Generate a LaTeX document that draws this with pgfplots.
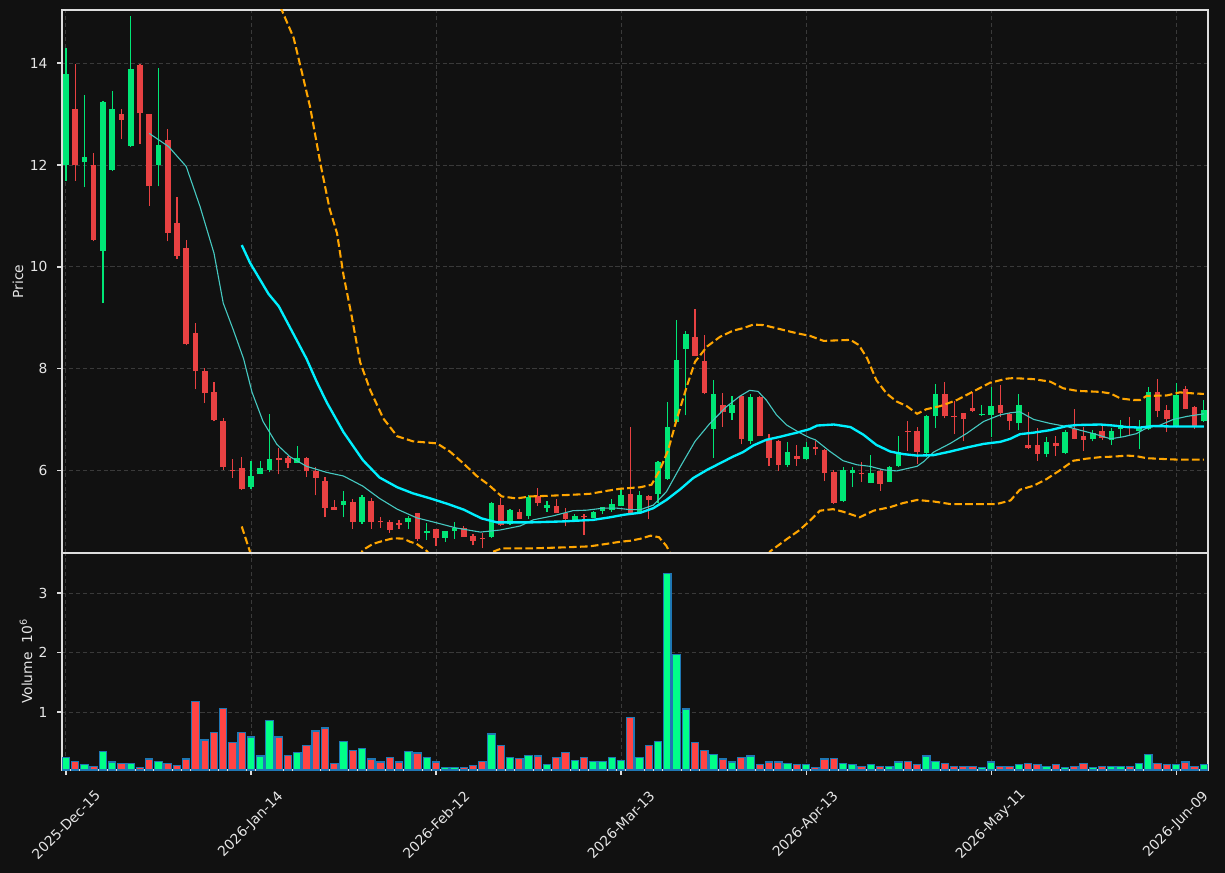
\documentclass[border=0pt]{standalone}
\usepackage{fontspec}
\setmainfont{DejaVu Sans}
\usepackage{pgfplots}
\usepackage{pgfplotstable}
\pgfplotsset{compat=1.18}
\definecolor{bg}{HTML}{111111}
\definecolor{upc}{HTML}{00E676}
\definecolor{dnc}{HTML}{E84142}
\definecolor{vup}{HTML}{00FF88}
\definecolor{vdn}{HTML}{FF4444}
\definecolor{vedge}{HTML}{1F77B4}
\definecolor{gridc}{HTML}{3A3A3A}
\definecolor{spine}{HTML}{DDDDDD}
\definecolor{tlab}{HTML}{E6E6E6}
\definecolor{smaA}{HTML}{00F0FF}
\definecolor{smaB}{HTML}{45C9C1}
\definecolor{bbc}{HTML}{FFA500}

\pgfplotstableread{
x o h l c
0 12.00 14.29 11.69 13.78
2 12.05 13.37 11.56 12.16
4 10.31 13.26 9.29 13.24
5 11.90 13.45 11.88 13.10
7 12.37 14.92 12.35 13.88
10 11.99 13.90 11.58 12.39
20 5.69 6.19 5.64 5.90
21 5.94 6.19 5.93 6.06
22 6.02 7.11 5.97 6.24
25 6.16 6.48 6.15 6.25
30 5.33 5.61 5.09 5.41
32 5.00 5.52 4.96 5.48
37 4.99 5.12 4.87 5.08
39 4.79 4.97 4.65 4.82
41 4.69 4.83 4.61 4.82
42 4.82 4.99 4.67 4.89
46 4.71 5.39 4.68 5.37
48 4.95 5.25 4.94 5.23
50 5.12 5.53 5.05 5.48
52 5.28 5.41 5.20 5.33
55 5.04 5.16 5.03 5.12
57 5.08 5.22 5.07 5.20
58 5.22 5.30 5.15 5.29
59 5.24 5.44 5.20 5.35
60 5.32 5.65 5.31 5.53
62 5.19 5.60 5.18 5.53
64 5.54 6.19 5.37 6.18
65 5.84 7.35 5.83 6.87
66 6.95 8.95 6.94 8.18
67 8.40 8.74 7.09 8.69
70 6.83 7.78 6.25 7.51
72 7.14 7.46 7.00 7.29
74 6.59 7.51 6.53 7.45
78 6.12 6.56 6.07 6.37
80 6.24 6.57 6.21 6.46
84 5.40 6.08 5.39 6.01
85 5.95 6.07 5.68 6.01
87 5.77 6.31 5.76 5.96
89 5.79 6.10 5.78 6.07
90 6.09 6.68 6.08 6.37
93 6.36 7.10 6.27 7.08
94 7.07 7.70 6.84 7.50
99 7.10 7.29 7.08 7.12
100 7.10 7.64 6.66 7.27
103 6.93 7.50 6.80 7.30
106 6.34 6.67 6.27 6.57
108 6.35 6.80 6.33 6.77
111 6.62 6.80 6.58 6.75
113 6.60 6.84 6.51 6.79
114 6.82 7.00 6.66 6.90
116 6.79 6.99 6.42 6.84
117 6.82 7.64 6.81 7.55
120 6.88 7.72 6.87 7.48
123 6.97 7.39 6.96 7.20
}\upcandles

\pgfplotstableread{
x o h l c
1 13.10 13.99 11.69 11.99
3 11.99 12.23 10.50 10.53
6 13.00 13.10 12.50 12.89
8 13.96 13.98 12.41 13.01
9 13.00 13.00 11.20 11.58
11 12.49 12.71 10.50 10.67
12 10.86 11.37 10.15 10.22
13 10.37 10.52 8.46 8.48
14 8.71 8.90 7.60 7.95
15 7.96 8.02 7.33 7.52
16 7.55 7.75 6.97 6.99
17 6.98 7.04 6.02 6.08
18 6.01 6.24 5.86 5.99
19 6.06 6.27 5.63 5.65
23 6.25 6.44 5.93 6.22
24 6.25 6.30 6.05 6.16
26 6.25 6.27 5.88 5.99
27 6.00 6.07 5.52 5.87
28 5.80 5.89 5.09 5.28
29 5.29 5.43 5.23 5.24
31 5.39 5.44 4.87 5.00
33 5.41 5.46 4.87 4.99
34 5.01 5.10 4.89 4.99
35 5.00 5.04 4.79 4.85
36 4.98 5.04 4.87 4.94
38 5.18 5.18 4.63 4.67
40 4.86 4.86 4.53 4.69
43 4.89 4.91 4.70 4.71
44 4.73 4.76 4.54 4.63
45 4.69 4.79 4.48 4.67
47 5.33 5.46 4.91 4.93
49 5.20 5.25 5.05 5.06
51 5.51 5.67 5.32 5.38
53 5.31 5.45 5.17 5.18
54 5.18 5.27 4.91 5.05
56 5.11 5.15 4.74 5.09
61 5.55 6.86 5.13 5.17
63 5.51 5.52 5.05 5.43
68 8.63 9.17 8.25 8.26
69 8.16 8.66 7.50 7.52
71 7.29 7.52 6.87 7.15
73 7.47 7.48 6.52 6.63
75 7.45 7.46 6.68 6.69
76 6.61 6.73 6.10 6.26
77 6.59 6.60 6.00 6.12
79 6.30 6.50 6.10 6.24
81 6.46 6.58 6.31 6.42
82 6.41 6.42 5.80 5.95
83 5.97 6.01 5.35 5.38
86 5.96 6.17 5.78 5.93
88 5.99 6.03 5.61 5.75
91 6.79 6.97 6.39 6.77
92 6.78 6.86 6.14 6.37
95 7.50 7.74 7.03 7.07
96 7.08 7.37 6.72 7.05
97 7.13 7.14 6.58 7.01
98 7.23 7.54 7.15 7.18
101 7.29 7.68 7.05 7.14
102 7.12 7.13 6.80 6.98
104 6.51 7.15 6.43 6.44
105 6.51 6.84 6.20 6.34
107 6.54 6.69 6.29 6.48
109 6.82 7.22 6.62 6.63
110 6.69 6.87 6.39 6.61
112 6.79 6.89 6.61 6.65
115 6.89 7.06 6.70 6.87
118 7.54 7.80 7.05 7.18
119 7.20 7.29 6.76 7.01
121 7.61 7.66 7.21 7.22
122 7.26 7.27 6.82 6.89
}\dncandles

\pgfplotstableread{
x v
0 0.24
2 0.11
4 0.34
5 0.16
7 0.13
10 0.17
20 0.58
21 0.26
22 0.85
25 0.32
30 0.51
32 0.38
37 0.34
39 0.24
41 0.07
42 0.07
46 0.63
48 0.24
50 0.27
52 0.12
55 0.19
57 0.17
58 0.17
59 0.24
60 0.19
62 0.24
64 0.51
65 3.33
66 1.97
67 1.05
70 0.29
72 0.16
74 0.26
78 0.14
80 0.11
84 0.14
85 0.11
87 0.12
89 0.09
90 0.16
93 0.26
94 0.17
99 0.06
100 0.16
103 0.12
106 0.09
108 0.07
111 0.06
113 0.09
114 0.09
116 0.14
117 0.29
120 0.12
123 0.11
}\upvol

\pgfplotstableread{
x v
1 0.17
3 0.09
6 0.13
8 0.07
9 0.21
11 0.13
12 0.10
13 0.21
14 1.18
15 0.53
16 0.66
17 1.06
18 0.49
19 0.66
23 0.58
24 0.27
26 0.43
27 0.68
28 0.73
29 0.14
31 0.36
33 0.21
34 0.16
35 0.24
36 0.16
38 0.31
40 0.16
43 0.07
44 0.10
45 0.17
47 0.44
49 0.22
51 0.26
53 0.24
54 0.32
56 0.24
61 0.91
63 0.44
68 0.48
69 0.36
71 0.21
73 0.24
75 0.11
76 0.16
77 0.16
79 0.11
81 0.07
82 0.21
83 0.22
86 0.09
88 0.09
91 0.17
92 0.12
95 0.14
96 0.09
97 0.09
98 0.09
101 0.09
102 0.09
104 0.14
105 0.12
107 0.11
109 0.09
110 0.14
112 0.09
115 0.09
118 0.14
119 0.11
121 0.16
122 0.09
}\dnvol

\pgfplotsset{
  panel/.style={
    scale only axis, width=11.46in,
    xmin=-0.43, xmax=123.45,
    axis line style={spine, line width=0.8pt},
    grid=major,
    major grid style={gridc, dash pattern=on 3pt off 2pt, line width=0.7pt},
    xtick={0,20,...,120},
    tick align=outside, major tick length=3.5pt,
    ytick pos=left, xtick pos=bottom,
    tick style={spine, line width=0.8pt},
    ticklabel style={font=\fontsize{10}{12}\selectfont, text=tlab},
    yticklabel style={xshift=-3.5pt},
    /pgf/number format/assume math mode=true,
    label style={font=\fontsize{10}{12}\selectfont, text=tlab},
  },
  candle/.style 2 args={draw=none, mark=none, forget plot,
    error bars/.cd, y dir=plus, y explicit, error mark=none,
    error bar style={draw=#1, line width=#2}},
}

\begin{document}
\begin{tikzpicture}
\path[use as bounding box, fill=bg] (-0.62in,-1.03in) rectangle (11.63in,7.70in);

\begin{axis}[panel,
  at={(0,2.17in)}, anchor=south west, height=5.43in,
  ymin=4.39, ymax=15.04, ytick={6,8,10,12,14},
  xticklabels={}, xtick style={draw=none},
  ylabel={Price},
  ylabel style={at={(axis description cs:-0.0384,0.5)}, anchor=center},
]
% wicks
\addplot[candle={upc}{0.8pt}]
  table[x=x, y=l, y error plus expr=\thisrow{h}-\thisrow{l}] {\upcandles};
\addplot[candle={dnc}{0.8pt}]
  table[x=x, y=l, y error plus expr=\thisrow{h}-\thisrow{l}] {\dncandles};
% bodies
\addplot[candle={upc}{4.0pt}]
  table[x=x, y=o, y error plus expr=\thisrow{c}-\thisrow{o}] {\upcandles};
\addplot[candle={dnc}{4.0pt}]
  table[x=x, y=c, y error plus expr=\thisrow{o}-\thisrow{c}] {\dncandles};

% Bollinger upper
\addplot[bbc, line width=1.5pt, dash pattern=on 5.5pt off 2.4pt, mark=none] coordinates {
(19,16.4) (21,15.9) (23.3,15.05) (24.6,14.50) (25.5,13.82) (26.4,13.13) (27.5,12.03) (28.5,11.14) (29.3,10.66) (30.0,9.84) (30.9,9.02) (31.8,8.13) (32.9,7.58) (34.3,7.03) (35.8,6.68) (37.5,6.58) (40.1,6.54) (41.5,6.38) (43.0,6.14) (44.4,5.90) (45.6,5.74) (47.1,5.50) (48.7,5.46) (50.2,5.50) (51.9,5.51) (54.5,5.53) (56.6,5.55) (58.5,5.61) (59.9,5.65) (62.1,5.68) (63.3,5.73) (64.2,6.02) (65.1,6.41) (66.0,7.00) (67.1,7.65) (68.0,8.14) (69.3,8.44) (70.7,8.63) (72.1,8.75) (73.2,8.80) (74.3,8.87) (75.4,8.86) (77.2,8.78) (79.0,8.70) (80.4,8.65) (81.9,8.55) (84.8,8.57) (85.7,8.47) (86.6,8.21) (87.6,7.78) (88.7,7.52) (89.8,7.36) (90.9,7.27) (92.0,7.12) (93.0,7.21) (94.5,7.27) (96.3,7.39) (98.1,7.56) (99.9,7.73) (101.7,7.81) (102.4,7.82) (104.6,7.80) (106.4,7.75) (107.8,7.62) (109.3,7.57) (111.8,7.55) (112.9,7.52) (114.0,7.42) (115.4,7.39) (116.1,7.39) (116.8,7.47) (119.0,7.48) (120.4,7.54) (121.9,7.52) (123.0,7.51)
};
% Bollinger lower
\addplot[bbc, line width=1.5pt, dash pattern=on 5.5pt off 2.4pt, mark=none] coordinates {
(19.0,4.91) (19.9,4.41) (20.5,4.0) (22,3.0) (25,2.5) (28,3.0) (30,3.7) (31.5,4.25) (32.1,4.45) (33.2,4.57) (34.3,4.63) (35.4,4.68) (36.5,4.67) (37.2,4.61) (37.9,4.57) (39.0,4.43) (40,4.2) (42,3.9) (44,4.1) (45.8,4.39) (47.1,4.48) (50.2,4.48) (53.8,4.50) (56.6,4.52) (58.1,4.56) (59.9,4.61) (61.0,4.63) (62.1,4.67) (63.2,4.73) (64.1,4.70) (64.9,4.53) (65.3,4.39) (66,3.9) (68,3.0) (70,2.8) (72,3.0) (74,3.5) (76.1,4.42) (77.9,4.66) (79.3,4.84) (80.4,5.02) (81.5,5.22) (82.9,5.25) (84.0,5.20) (85.8,5.09) (87.3,5.22) (89.1,5.29) (90.5,5.37) (92.0,5.43) (93.8,5.40) (95.6,5.35) (98.1,5.35) (100.6,5.35) (102.1,5.42) (103.1,5.63) (104.6,5.71) (106.0,5.84) (107.5,6.02) (108.9,6.20) (110.3,6.24) (111.8,6.27) (113.2,6.28) (114.7,6.30) (115.7,6.29) (116.8,6.25) (119.0,6.23) (120.4,6.22) (123.0,6.22)
};
% SMA 10 (thin)
\addplot[smaB, line width=0.8pt, mark=none] coordinates {
(9.0,12.62) (11.1,12.36) (13.0,11.97) (14.5,11.18) (16.0,10.27) (17.0,9.29) (18.1,8.76) (19.2,8.20) (20.1,7.55) (21.3,6.97) (22.8,6.52) (24.2,6.28) (26.0,6.09) (28.2,5.97) (30.0,5.90) (32.1,5.70) (33.9,5.46) (35.8,5.25) (37.9,5.08) (40.1,4.98) (42.2,4.88) (44.8,4.80) (46.9,4.84) (49.1,4.92) (50.5,5.04) (52.7,5.12) (54.8,5.22) (56.3,5.23) (58.1,5.27) (59.5,5.27) (61.0,5.24) (62.1,5.24) (63.5,5.33) (64.9,5.59) (66.4,6.08) (68.0,6.58) (69.6,6.93) (71.4,7.26) (72.8,7.46) (73.9,7.58) (74.8,7.56) (75.7,7.39) (76.8,7.10) (77.9,6.90) (79.3,6.75) (80.4,6.65) (81.0,6.61) (82.6,6.38) (84.0,6.20) (85.5,6.12) (86.9,6.09) (88.4,6.02) (89.8,6.00) (92.0,6.09) (92.7,6.18) (93.8,6.37) (95.6,6.54) (97.4,6.74) (99.2,6.97) (101.0,7.10) (102.1,7.14) (103.1,7.16) (104.6,7.01) (106.4,6.93) (108.2,6.87) (109.6,6.80) (111.1,6.73) (112.9,6.63) (114.3,6.67) (115.7,6.73) (116.8,6.84) (118.3,6.90) (119.7,7.01) (121.2,7.07) (123.0,7.12)
};
% SMA 20 (thick)
\addplot[smaA, line width=1.7pt, mark=none] coordinates {
(19,10.43) (19.9,10.08) (21.9,9.47) (23.0,9.23) (24.4,8.75) (26.0,8.20) (27.1,7.75) (28.2,7.34) (30.0,6.76) (32.1,6.21) (33.9,5.87) (35.8,5.68) (37.5,5.56) (39.4,5.46) (41.3,5.35) (43.0,5.24) (44.9,5.07) (46.6,4.99) (50.2,4.99) (53.8,5.01) (57.0,5.04) (58.8,5.09) (60.3,5.14) (62.1,5.18) (63.5,5.27) (64.9,5.43) (66.4,5.64) (67.8,5.86) (69.3,6.02) (70.7,6.15) (72.1,6.28) (73.2,6.37) (74.3,6.50) (75.7,6.61) (77.2,6.67) (79.0,6.75) (80.4,6.82) (81.2,6.89) (83.0,6.91) (84.8,6.86) (86.2,6.71) (87.6,6.51) (89.1,6.38) (90.5,6.33) (92.0,6.30) (93.8,6.31) (95.6,6.38) (97.4,6.46) (99.2,6.53) (101.0,6.57) (102.1,6.63) (103.1,6.72) (104.6,6.75) (106.4,6.80) (108.2,6.88) (109.3,6.90) (111.8,6.91) (113.2,6.89) (114.7,6.86) (116.1,6.85) (117.5,6.88) (119.7,6.87) (123.0,6.87)
};
\end{axis}

\begin{axis}[panel,
  at={(0,0)}, anchor=south west, height=2.17in,
  ymin=0.025, ymax=3.672, ytick={1,2,3},
  xticklabels={2025-Dec-15,2026-Jan-14,2026-Feb-12,2026-Mar-13,2026-Apr-13,2026-May-11,2026-Jun-09},
  xticklabel style={yshift=-0.5in, rotate=45, anchor=center},
  ylabel={Volume\ \ 10\textsuperscript{6}},
  ylabel style={at={(axis description cs:-0.0314,0.5)}, anchor=center},
]
\addplot[ybar, bar width=0.8, bar shift=0pt, fill=vup, draw=vedge, line width=0.8pt] table[x=x, y=v] {\upvol};
\addplot[ybar, bar width=0.8, bar shift=0pt, fill=vdn, draw=vedge, line width=0.8pt] table[x=x, y=v] {\dnvol};
\end{axis}
\end{tikzpicture}
\end{document}
